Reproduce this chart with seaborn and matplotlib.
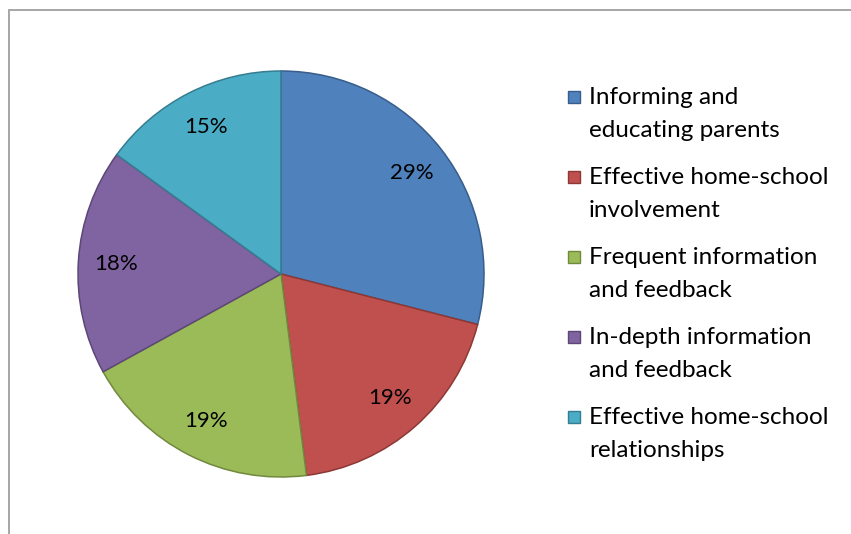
import matplotlib
matplotlib.use("Agg")
import matplotlib.pyplot as plt
from matplotlib.patches import Rectangle
import numpy as np
import seaborn as sns

categories = [
    "Informing and\neducating parents",
    "Effective home-school\ninvolvement",
    "Frequent information\nand feedback",
    "In-depth information\nand feedback",
    "Effective home-school\nrelationships",
]
shares = [29, 19, 19, 18, 15]
fill_hex = ["#4F81BD", "#C0504D", "#9BBB59", "#8064A2", "#4BACC6"]
edge_hex = ["#385D8A", "#8C3836", "#71893F", "#5C4776", "#357D91"]

sns.set_theme(style="white")
plt.rcParams["font.family"] = ["Lato", "DejaVu Sans"]

W, H = 851, 534
fig = plt.figure(figsize=(W / 100, H / 100), dpi=100)
fig.patch.set_facecolor("white")

# outer chart frame (runs off the right and bottom edges)
frame = Rectangle((8.5 / W, -0.1), 2.0, 1 - 9.5 / H + 0.1, transform=fig.transFigure,
                  fill=False, edgecolor="#A6A6A6", linewidth=1.4)
fig.patches.append(frame)

cx, cy, r = 281, 274, 203
ax = fig.add_axes([(cx - r) / W, (H - cy - r) / H, 2 * r / W, 2 * r / H])
palette = sns.color_palette(fill_hex)
wedges, _texts, autotexts = ax.pie(
    shares, colors=palette, startangle=90, counterclock=False,
    autopct=lambda p: f"{p:.0f}%", pctdistance=0.815,
    wedgeprops=dict(linewidth=1.1),
    textprops=dict(fontsize=16, color="black"),
)
for w, ec in zip(wedges, edge_hex):
    w.set_edgecolor(ec)
ax.set_xlim(-1, 1)
ax.set_ylim(-1, 1)
ax.set_aspect("auto")
ax.axis("off")

# legend: square swatch aligned with the first line of each label
top = 97
pitch = 80
for i, (lab, fc, ec) in enumerate(zip(categories, palette, edge_hex)):
    y = top + i * pitch
    fig.patches.append(Rectangle((568 / W, (H - y - 6) / H), 12 / W, 12 / H,
                                 transform=fig.transFigure, facecolor=fc,
                                 edgecolor=ec, linewidth=1.0))
    fig.text(589 / W, (H - y + 10) / H, lab, fontsize=17.5, va="top", ha="left",
             color="black", linespacing=1.72)

fig.savefig("out.png", dpi=100, facecolor="white")
